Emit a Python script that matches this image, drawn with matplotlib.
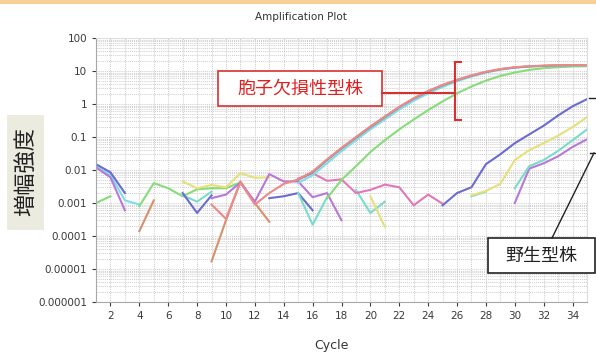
import matplotlib.pyplot as plt
import numpy as np
from matplotlib.lines import Line2D
from matplotlib.patches import Rectangle
from matplotlib.ticker import FixedLocator, LogLocator, NullFormatter

nan = np.nan

# amplification curves, early-rising group
cyc_red = list(range(9, 36))
val_red = [0.0009, 0.00033, 0.0042, 0.0009, 0.002, 0.0038, 0.0052, 0.009, 0.021,
           0.047, 0.1, 0.21, 0.42, 0.82, 1.5, 2.5, 3.8, 5.4, 7.4, 9.5, 11.5, 13,
           14, 14.5, 15, 15, 15]
cyc_gray = list(range(15, 36))
val_gray = [0.005, 0.0085, 0.02, 0.045, 0.095, 0.2, 0.4, 0.8, 1.45, 2.4, 3.7,
            5.3, 7.2, 9.3, 11.3, 12.8, 13.8, 14.4, 14.8, 15, 15]
cyc_cyan = list(range(15, 36))
val_cyan = [0.004, 0.007, 0.016, 0.037, 0.08, 0.17, 0.34, 0.68, 1.25, 2.1, 3.3,
            4.9, 6.8, 9.0, 11, 12.5, 13.5, 14.2, 14.6, 14.8, 14.8]
cyc_green = list(range(17, 36))
val_green = [0.0014, 0.005, 0.013, 0.035, 0.08, 0.17, 0.34, 0.65, 1.2, 2.1, 3.4,
             5.1, 7.1, 9.0, 10.8, 12.2, 13.1, 13.7, 14]

# late-rising group
cyc_blue = list(range(25, 36))
val_blue = [0.00085, 0.002, 0.003, 0.015, 0.03, 0.065, 0.12, 0.22, 0.45, 0.85, 1.4]
cyc_yellow = list(range(27, 36))
val_yellow = [0.0017, 0.0023, 0.0038, 0.02, 0.04, 0.065, 0.11, 0.2, 0.4]
cyc_teal = list(range(27, 36))
val_teal = [0.0016, 0.0022, nan, 0.0028, 0.013, 0.02, 0.038, 0.08, 0.17]
cyc_violet = list(range(30, 36))
val_violet = [0.001, 0.011, 0.016, 0.026, 0.05, 0.085]

# background noise before threshold
noise = [
    ([1, 2, 3, 4], [0.013, 0.007, 0.0012, 0.0009], "#7fdcef"),
    ([1, 2, 3], [0.012, 0.006, 0.0006], "#b878d8"),
    ([1, 2, 3], [0.015, 0.0085, 0.002], "#6b6bd0"),
    ([1, 2], [0.001, 0.0016], "#86dc78"),
    ([4, 5, 6, 7, 8, 9, 10, 11], [0.0008, 0.004, 0.0028, 0.0016, 0.0026, 0.0028, 0.0028, 0.0042], "#86dc78"),
    ([4, 5], [0.00014, 0.0012], "#d8906a"),
    ([9, 10, 11, 12, 13], [1.7e-5, 3e-4, 4.5e-3, 1e-3, 2.7e-4], "#d8906a"),
    ([7, 8, 9, 10, 11, 12, 13], [0.0045, 0.0028, 0.0035, 0.003, 0.008, 0.0058, 0.006], "#e6e07a"),
    ([7, 8, 9], [0.0017, 0.0011, 0.0022], "#7adcc8"),
    ([7, 8, 9], [0.002, 0.0005, 0.0017], "#6b6bd0"),
    ([9, 10, 11, 12, 13, 14, 15, 16, 17, 18],
     [0.0014, 0.0018, 0.0042, 0.0011, 0.0075, 0.0045, 0.0045, 0.0015, 0.002, 0.0003], "#b878d8"),
    ([13, 14, 15, 16], [0.0014, 0.0016, 0.002, 0.0006], "#6b6bd0"),
    ([15, 16, 17], [0.002, 0.00022, 0.0015], "#7adcc8"),
    ([19, 20, 21], [0.0025, 0.0005, 0.0011], "#7adcc8"),
    ([20, 21], [0.0016, 0.00019], "#e6e07a"),
    ([15, 16, 17, 18, 19, 20, 21, 22, 23, 24, 25],
     [0.0055, 0.008, 0.0047, 0.0052, 0.002, 0.0025, 0.0036, 0.003, 0.00085, 0.0018, 0.00095], "#e078b8"),
]

x_ticks = list(range(2, 35, 2))
y_ticks = [1e-6, 1e-5, 1e-4, 1e-3, 1e-2, 1e-1, 1, 10, 100]
y_labels = ["0.000001", "0.00001", "0.0001", "0.001", "0.01", "0.1", "1", "10", "100"]

W, H = 596, 355
fig = plt.figure(figsize=(W / 100, H / 100), dpi=100)
ax = fig.add_axes([96 / W, 1 - 302 / H, (587 - 96) / W, (302 - 38) / H])


def px(x, y):
    return x / W, 1 - y / H


# grid
ax.set_yscale("log")
ax.set_xlim(1, 35)
ax.set_ylim(1e-6, 100)
ax.xaxis.set_minor_locator(FixedLocator(range(1, 36)))
ax.yaxis.set_minor_locator(LogLocator(base=10, subs=np.arange(2, 10)))
ax.yaxis.set_minor_formatter(NullFormatter())
ax.grid(True, which="both", color="#d0d0d0", linestyle=(0, (1, 1)), linewidth=0.75)
ax.set_axisbelow(True)

lw = 1.5
for xs, ys, c in noise:
    ax.plot(xs, ys, color=c, lw=lw)
ax.plot(cyc_green, val_green, color="#86dc78", lw=lw)
ax.plot(cyc_cyan, val_cyan, color="#7fdcef", lw=lw)
ax.plot(cyc_gray, val_gray, color="#8a8a8a", lw=lw)
ax.plot(cyc_red, val_red, color="#ec8a8a", lw=lw)
ax.plot(cyc_violet, val_violet, color="#b878d8", lw=lw)
ax.plot(cyc_teal, val_teal, color="#7adcc8", lw=lw)
ax.plot(cyc_yellow, val_yellow, color="#e6e07a", lw=lw)
ax.plot(cyc_blue, val_blue, color="#6b6bd0", lw=lw)

ax.set_xticks(x_ticks)
ax.set_yticks(y_ticks)
ax.set_yticklabels(y_labels)
ax.tick_params(axis="both", which="major", labelsize=7.5, colors="#3a3a3a", length=3)
ax.tick_params(axis="both", which="minor", length=0)
for s in ["left", "bottom"]:
    ax.spines[s].set_color("#a8a8a8")
for s in ["top", "right"]:
    ax.spines[s].set_color("#dddddd")

fig.text(*px(301, 17), "Amplification Plot", fontsize=7.5, color="#333333",
         ha="center", va="center")
fig.text(*px(331, 345), "Cycle", fontsize=9, color="#333333", ha="center", va="center")

# header strip
fig.patches.append(Rectangle((0, 1 - 4 / H), 1, 4 / H, transform=fig.transFigure,
                             facecolor="#f9cf98", edgecolor="none"))

jp = ["Noto Sans CJK JP", "DejaVu Sans"]

# vertical axis caption
fig.patches.append(Rectangle(px(7, 230), 37 / W, 115 / H, transform=fig.transFigure,
                             facecolor="#ecebe0", edgecolor="none"))
fig.text(*px(25.5, 172), "増幅強度", family=jp, fontsize=16, rotation=90,
         ha="center", va="center", color="#222222")

# mutant strain callout
fig.patches.append(Rectangle(px(218, 106), 164 / W, 35 / H, transform=fig.transFigure,
                             facecolor="white", edgecolor="#d83030", lw=1.2))
fig.text(*px(300, 89), "胞子欠損性型株", family=jp, fontsize=13, color="#e02020",
         ha="center", va="center")
for seg in [((382, 93), (455, 93)), ((455, 62), (455, 120)),
            ((455, 62), (461, 62)), ((455, 120), (461, 120))]:
    (x0, y0), (x1, y1) = seg
    fig.lines.append(Line2D([x0 / W, x1 / W], [1 - y0 / H, 1 - y1 / H],
                            transform=fig.transFigure, color="#d83030", lw=1.5))

# wild type callout
fig.patches.append(Rectangle(px(488, 273), 107 / W, 35 / H, transform=fig.transFigure,
                             facecolor="white", edgecolor="#222222", lw=1.2))
fig.text(*px(541, 256), "野生型株", family=jp, fontsize=13, color="#222222",
         ha="center", va="center")
for seg in [((552, 238), (594, 153)), ((590, 153), (596, 153)), ((589, 98), (596, 98))]:
    (x0, y0), (x1, y1) = seg
    fig.lines.append(Line2D([x0 / W, x1 / W], [1 - y0 / H, 1 - y1 / H],
                            transform=fig.transFigure, color="#222222", lw=1.0))

fig.savefig("out.png", dpi=100)
